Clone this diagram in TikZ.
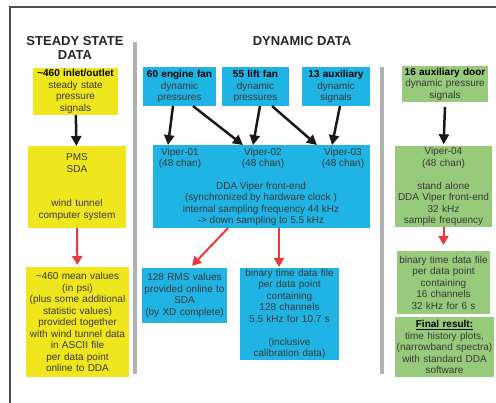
\documentclass[tikz,border=0pt]{standalone}
\usepackage{fontspec}
\setmainfont{Liberation Sans}
\usetikzlibrary{arrows.meta}

\definecolor{boxyellow}{RGB}{240,230,30}
\definecolor{boxblue}{RGB}{32,180,228}
\definecolor{boxgreen}{RGB}{152,202,124}
\definecolor{arrred}{RGB}{232,58,60}

\begin{document}
\begin{tikzpicture}[x=1pt,y=-1pt,
  every node/.style={font=\fontsize{10}{11.5}\selectfont, text=black!78},
  head/.style={font=\fontsize{13}{14}\selectfont\bfseries, text=black!85, align=center},
  box/.style={align=center, inner sep=1pt, outer sep=0pt},
  ybox/.style={box, fill=boxyellow},
  bbox/.style={box, fill=boxblue},
  gbox/.style={box, fill=boxgreen},
  vlab/.style={align=center, inner sep=3pt, outer sep=0pt},
  blk/.style={line width=2.5pt, black!90, -{Triangle[length=10pt,width=10pt]}},
  rd/.style={line width=2pt, arrred, -{Triangle[length=9pt,width=10pt]}}]
\useasboundingbox (0,0) rectangle (496,403);

% frame and separators
\draw[line width=1.5pt, black!70] (10,403) -- (10,7) -- (496,7);
\draw[line width=4pt, black!30] (135,42) -- (135,374);
\draw[line width=4pt, black!30] (382,67) -- (382,374);

% headers
\node[head] (hsteady) at (75,48) {STEADY STATE\\DATA};
\node[head] (hdyn) at (302,41) {DYNAMIC DATA};

% steady state column
\node[ybox, text width=83pt, minimum height=47pt] (inlet) at (75.5,91.5)
  {\textcolor{black}{\textbf{\textasciitilde460 inlet/outlet}}\\steady state\\pressure\\signals};
\node[ybox, text width=96pt, minimum height=82pt] (pms) at (77,187)
  {PMS\\SDA\\\mbox{}\\\mbox{}\\wind tunnel\\computer system};
\node[ybox, text width=101pt, minimum height=110pt] (mean) at (77.5,322)
  {\textasciitilde460 mean values\\(in psi)\\(plus some additional\\statistic values)\\provided together\\with wind tunnel data\\in ASCII file\\per data point\\online to DDA};
\draw[blk] (inlet) -- (pms);
\draw[rd, shorten >=2pt] (pms) -- (mean);

% dynamic column
\node[bbox, text width=71pt, minimum height=39pt] (efan) at (179.5,86.5)
  {\textcolor{black}{\textbf{60 engine fan}}\\dynamic\\pressures};
\node[bbox, text width=65pt, minimum height=39pt] (lfan) at (255.5,86.5)
  {\textcolor{black}{\textbf{55 lift fan}}\\dynamic\\pressures};
\node[bbox, text width=66pt, minimum height=39pt] (aux) at (336,86.5)
  {\textcolor{black}{\textbf{13 auxiliary}}\\dynamic\\signals};
\node[bbox, minimum width=217pt, minimum height=83pt] (ffe) at (261.5,186.5) {};
\node[vlab] (v1) at (180,158.5) {Viper-01\\(48 chan)};
\node[vlab] (v2) at (263,158.5) {Viper-02\\(48 chan)};
\node[vlab] (v3) at (343,158.5) {Viper-03\\(48 chan)};
\node[align=center, inner sep=0pt] (ffetxt) at (261,204)
  {DDA Viper front-end\\(synchronized by hardware clock )\\internal sampling frequency 44 kHz\\-> down sampling to 5.5 kHz};
\node[bbox, text width=83pt, minimum height=55pt] (rms) at (184.5,295.5)
  {128 RMS values\\provided online to\\SDA\\(by XD complete)};
\node[bbox, text width=97pt, minimum height=92pt] (tbin) at (289.5,314)
  {binary time data file\\per data point\\containing\\128 channels\\5.5 kHz for 10.7 s\\\mbox{}\\(inclusive\\calibration data)};
\draw[blk] ([xshift=-6.5pt]efan.south) -- ([xshift=-12pt]v1.north);
\draw[blk] ([xshift=13.5pt]efan.south) -- ([xshift=-20pt]v2.north);
\draw[blk] ([xshift=4.5pt]lfan.south) -- ([xshift=-10pt]v2.north);
\draw[blk] ([xshift=16.5pt]lfan.south) -- ([xshift=-26pt]v3.north);
\draw[blk] ([xshift=4pt]aux.south) -- ([xshift=-11pt]v3.north);
\draw[rd, shorten >=3pt] ([xshift=-33.5pt]ffe.south) -- ([xshift=5.5pt]rms.north);
\draw[rd, shorten >=1pt] ([xshift=17.5pt]ffe.south) -- ([xshift=-10.5pt]tbin.north);

% auxiliary door column
\node[gbox, text width=84pt, minimum height=36pt] (door) at (445,84)
  {\textcolor{black}{\textbf{16 auxiliary door}}\\dynamic pressure\\signals};
\node[gbox, text width=95pt, minimum height=79pt] (v4) at (443.5,186.5)
  {Viper-04\\(48 chan)\\\mbox{}\\stand alone\\DDA Viper front-end\\32 kHz\\sample frequency};
\node[gbox, text width=91pt, minimum height=63pt] (gbin) at (443.5,282.5)
  {binary time data file\\per data point\\containing\\16 channels\\32 kHz for 6 s};
\node[gbox, text width=97pt, minimum height=60pt] (final) at (444.5,347)
  {\textcolor{black}{\underline{\textbf{Final result:}}}\\time history plots,\\(narrowband spectra)\\with standard DDA\\software};
\draw[blk, shorten >=2pt] ([yshift=-5pt]door.south) -- (v4.north);
\draw[rd, shorten >=6pt] (v4.south) -- (gbin.north);
\end{tikzpicture}
\end{document}
